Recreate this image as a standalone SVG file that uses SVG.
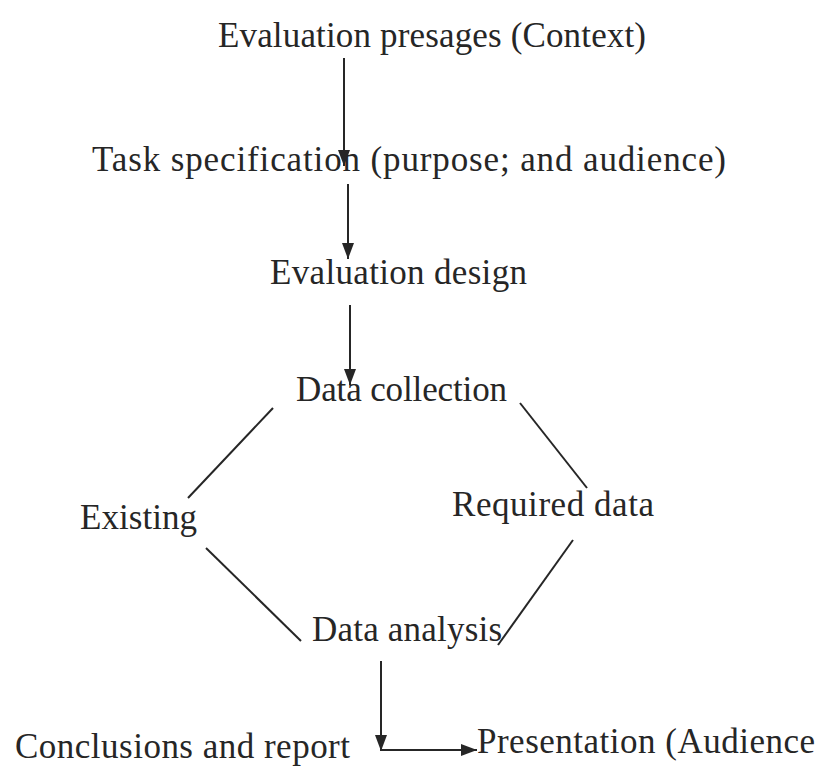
<svg xmlns="http://www.w3.org/2000/svg" width="818" height="772" viewBox="0 0 818 772">
<style>
text{font-family:"Liberation Serif","Times New Roman",serif;font-size:35px;fill:#262626}
.c{stroke:#262626;stroke-width:2;fill:none}
</style>
<defs>
<marker id="ah" viewBox="0 0 16 12" refX="16" refY="6" markerWidth="16" markerHeight="12" markerUnits="userSpaceOnUse" orient="auto">
<path d="M0,0 L16,6 L0,12 Z" fill="#262626"/>
</marker>
</defs>
<rect width="818" height="772" fill="#fff"/>
<g id="connectors">
<line class="c" x1="344" y1="58" x2="344" y2="166" marker-end="url(#ah)"/>
<line class="c" x1="348" y1="184" x2="348" y2="259" marker-end="url(#ah)"/>
<line class="c" x1="350" y1="305" x2="350" y2="385" marker-end="url(#ah)"/>
<line class="c" x1="273" y1="408" x2="188" y2="498"/>
<line class="c" x1="520" y1="403" x2="587" y2="488"/>
<line class="c" x1="206" y1="548" x2="301" y2="641"/>
<line class="c" x1="573" y1="540" x2="498" y2="645"/>
<line class="c" x1="381" y1="661" x2="381" y2="751" marker-end="url(#ah)"/>
<line class="c" x1="381" y1="750" x2="477" y2="750" marker-end="url(#ah)"/>
</g>
<g id="n1"><text x="218" y="47" textLength="428">Evaluation presages (Context)</text></g>
<g id="n2"><text x="92" y="171" textLength="634">Task specification (purpose; and audience)</text></g>
<g id="n3"><text x="270" y="284" textLength="257">Evaluation design</text></g>
<g id="n4"><text x="296" y="401" textLength="211">Data collection</text></g>
<g id="n5"><text x="80" y="529" textLength="117">Existing</text></g>
<g id="n6"><text x="452" y="516" textLength="202">Required data</text></g>
<g id="n7"><text x="312" y="641" textLength="190">Data analysis</text></g>
<g id="n8"><text x="15" y="758" textLength="335">Conclusions and report</text></g>
<g id="n9"><text x="477" y="753" textLength="338">Presentation (Audience</text></g>
</svg>
